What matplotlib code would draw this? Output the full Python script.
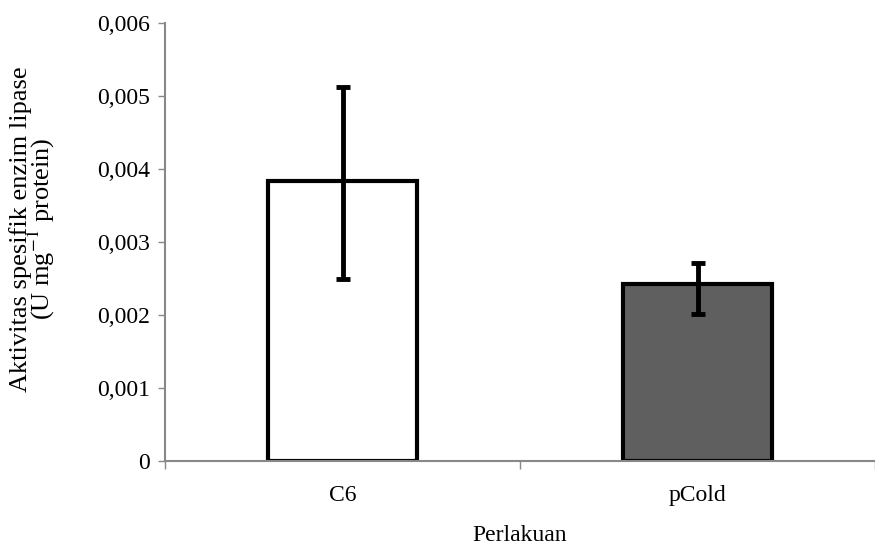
import numpy as np
import matplotlib
matplotlib.use("Agg")
import matplotlib.pyplot as plt

plt.rcParams['font.family'] = ['Liberation Serif', 'DejaVu Serif']
plt.rcParams['mathtext.fontset'] = 'stix'

# data
categories = ["C6", "pCold"]
activity = [0.00384, 0.00242]
err_low = [0.00135, 0.00041]
err_high = [0.00128, 0.00029]
bar_colors = ["white", "#5f5f5f"]

yticks = [0, 0.001, 0.002, 0.003, 0.004, 0.005, 0.006]
ytick_labels = ["0", "0,001", "0,002", "0,003", "0,004", "0,005", "0,006"]

fig = plt.figure(figsize=(8.75, 5.5), dpi=100)
ax = fig.add_axes([165 / 875, 1 - 461 / 550, 710 / 875, 438 / 550])

x = np.arange(len(categories))
ax.bar(x, activity, width=0.42, color=bar_colors, edgecolor="black", linewidth=3, zorder=2)
ax.errorbar(x, activity, yerr=[err_low, err_high], fmt="none", ecolor="black",
            elinewidth=3.5, capsize=5, capthick=3.5, zorder=3)

ax.set_xlim(-0.5, 1.5)
ax.set_ylim(0, 0.006)

ax.set_yticks(yticks)
ax.set_yticklabels(ytick_labels, fontsize=17)
ax.set_xticks(x)
ax.set_xticklabels(categories, fontsize=17)
ax.set_xticks([-0.5, 0.5, 1.5], minor=True)
ax.tick_params(axis="x", which="major", length=0, pad=17)
ax.tick_params(axis="x", which="minor", length=6, color="#888888", width=1)
ax.tick_params(axis="y", length=5, color="#888888", width=1, pad=6)

for side in ["top", "right"]:
    ax.spines[side].set_visible(False)
for side in ["left", "bottom"]:
    ax.spines[side].set_color("#888888")
    ax.spines[side].set_linewidth(1.5)

ax.set_xlabel("Perlakuan", fontsize=17, labelpad=14)
ax.set_ylabel("Aktivitas spesifik enzim lipase\n(U mg$^{-1}$ protein)", fontsize=19,
              linespacing=0.75)
ax.yaxis.set_label_coords(-0.152, 0.53)

fig.savefig("out.png", dpi=100)
